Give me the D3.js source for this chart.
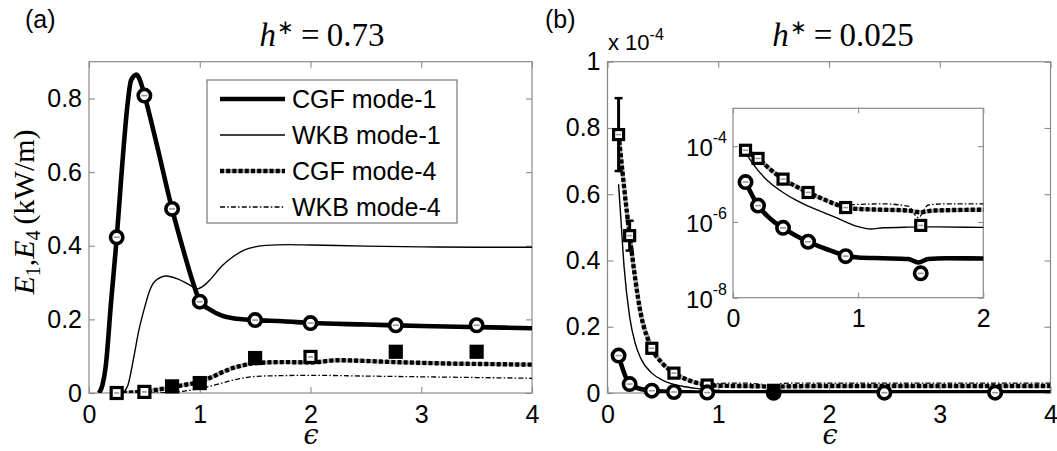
<!DOCTYPE html>
<html><head><meta charset="utf-8">
<script src="https://cdn.jsdelivr.net/npm/d3@7"></script>
<style>
body{margin:0;background:#fff}
svg{display:block}
.tick text{font-family:"Liberation Sans",Arial,sans-serif;font-size:25px;fill:#000}
</style></head><body>
<svg id="fig" width="1057" height="451"></svg>
<script>
// ---------- panel (a): h* = 0.73 ----------
const epsCgf1A = [0.09,0.12,0.15,0.2,0.25,0.3,0.35,0.38,0.43,0.46,0.5,0.6,0.75,0.85,0.95,1.0,1.1,1.2,1.3,1.5,1.75,2.0,2.5,3.0,3.5,4.0];
const cgf1A    = [0,0.02,0.07,0.25,0.42,0.62,0.79,0.85,0.865,0.85,0.81,0.69,0.50,0.39,0.29,0.25,0.225,0.21,0.203,0.198,0.195,0.19,0.186,0.182,0.179,0.176];
const epsWkb1A = [0.3,0.35,0.4,0.45,0.5,0.55,0.6,0.7,0.8,0.9,0.98,1.05,1.1,1.2,1.3,1.4,1.5,1.6,1.8,2.0,2.5,3.0,3.5,4.0];
const wkb1A    = [0,0.02,0.09,0.17,0.23,0.28,0.305,0.318,0.31,0.295,0.283,0.295,0.31,0.345,0.37,0.388,0.397,0.401,0.403,0.402,0.399,0.397,0.396,0.396];
const epsCgf4A = [0.25,0.5,0.75,0.9,1.0,1.1,1.2,1.3,1.4,1.5,1.75,2.0,2.25,2.5,2.75,3.0,3.25,3.5,3.75,4.0];
const cgf4A    = [0,0.004,0.016,0.024,0.03,0.042,0.056,0.068,0.076,0.081,0.084,0.083,0.089,0.087,0.084,0.082,0.080,0.079,0.078,0.077];
const epsWkb4A = [0.25,0.5,0.7,0.8,0.9,1.0,1.1,1.2,1.3,1.4,1.5,1.7,2.0,2.5,3.0,3.5,4.0];
const wkb4A    = [0,0,0.001,0.003,0.007,0.012,0.019,0.027,0.035,0.041,0.045,0.047,0.048,0.046,0.044,0.042,0.040];
const epsMarkA = [0.25,0.5,0.75,1.0,1.5,2.0,2.77,3.5];
const circA    = [0.423,0.808,0.500,0.248,0.198,0.190,0.184,0.184];
const sqA      = [0.0,0.003,0.018,0.027,0.095,0.098,0.112,0.112];
const xTicksA  = [0,1,2,3,4];
const yTicksA  = [0,0.2,0.4,0.6,0.8];

// ---------- panel (b): h* = 0.025 ----------
const epsCgf1B = [0.1,0.2,0.3,0.4,0.5,0.6,0.75,0.9,1.0,1.2,1.4,1.48,1.56,1.7,2.0,3.0,4.0];
const cgf1B    = [1.13e-5,2.7e-6,1.2e-6,7e-7,4.4e-7,3e-7,1.9e-7,1.3e-7,1.15e-7,1.1e-7,1.05e-7,8.5e-8,1.05e-7,1.1e-7,1.08e-7,1.05e-7,1.05e-7];
const epsWkb1B = [0.1,0.12,0.15,0.2,0.25,0.3,0.4,0.5,0.6,0.7,0.8,0.9,1.0,1.1,1.2,1.4,1.6,2.0,3.0,4.0];
const wkb1B    = [6.3e-5,5.3e-5,3.8e-5,2.3e-5,1.5e-5,1.05e-5,6e-6,3.8e-6,2.6e-6,1.9e-6,1.4e-6,1.0e-6,7.5e-7,6.5e-7,7.0e-7,7.3e-7,7.4e-7,7.2e-7,7.0e-7,7.0e-7];
const epsCgf4B = [0.1,0.2,0.3,0.4,0.5,0.6,0.7,0.8,0.9,1.0,1.2,1.4,1.5,1.6,2.0,3.0,4.0];
const cgf4B    = [7.8e-5,4.75e-5,2.4e-5,1.35e-5,8.8e-6,6e-6,4.3e-6,3.1e-6,2.4e-6,2.2e-6,2.1e-6,2.0e-6,1.8e-6,2.0e-6,2.1e-6,2.1e-6,2.1e-6];
const epsWkb4B = [0.1,0.15,0.2,0.3,0.4,0.5,0.6,0.7,0.8,0.9,1.0,1.2,1.4,1.48,1.56,1.7,2.0,3.0,4.0];
const wkb4B    = [8.0e-5,6.2e-5,5.0e-5,2.6e-5,1.45e-5,9e-6,6.2e-6,4.4e-6,3.4e-6,2.8e-6,2.9e-6,3.0e-6,2.6e-6,1.3e-6,2.8e-6,3.0e-6,3.0e-6,3.0e-6,3.0e-6];
const epsCircB = [0.1,0.2,0.4,0.6,0.9,1.5,2.5,3.5];
const circB    = [1.13e-5,2.7e-6,7e-7,3e-7,1.25e-7,4.4e-8,1e-7,1e-7];
const epsSqB   = [0.1,0.2,0.4,0.6,0.9,1.5];
const sqB      = [7.8e-5,4.75e-5,1.35e-5,6e-6,2.4e-6,8.1e-7];
const sqLoB    = [6.7e-5,4.3e-5,1.2e-5,5.4e-6,2.2e-6,7.5e-7];
const sqHiB    = [8.9e-5,5.2e-5,1.5e-5,6.6e-6,2.6e-6,8.7e-7];
const xTicksB  = [0,1,2,3,4];
const yTicksB  = [0,0.2,0.4,0.6,0.8,1];   // in units of 1e-4
const xTicksIn = [0,1,2];
const yTicksIn = [1e-8,1e-6,1e-4];

const legendLabels = ["CGF mode-1","WKB mode-1","CGF mode-4","WKB mode-4"];

// ---------- drawing ----------
const sans  = '"Liberation Sans",Arial,sans-serif';
const serif = '"Liberation Serif","Times New Roman",serif';
const frameColor = "#8a8a8a";
const fig = d3.select("#fig");

// line styles per series
const styles = {
  cgf1: {w:4.6, dash:null,            color:"#000"},
  wkb1: {w:1.4, dash:null,            color:"#000"},
  cgf4: {w:4.4, dash:"4,2.2",         color:"#000"},
  wkb4: {w:1.3, dash:"5,2.2,1.5,2.2", color:"#000"}
};

function drawFrame(g, x, y, xTicks, yTicks, yFmt, tl) {
  const [xa, xb] = x.range(), [ya, yb] = y.range();
  g.append("rect").attr("x", xa).attr("y", yb).attr("width", xb - xa).attr("height", ya - yb)
    .attr("fill", "#fff").attr("stroke", frameColor).attr("stroke-width", 1.2);
  g.append("g").attr("transform", `translate(0,${ya})`)
    .call(d3.axisBottom(x).tickValues(xTicks).tickSizeInner(-tl).tickSizeOuter(0).tickPadding(12).tickFormat(d3.format("d")));
  g.append("g").attr("transform", `translate(0,${yb})`)
    .call(d3.axisTop(x).tickValues(xTicks).tickSizeInner(-tl).tickSizeOuter(0).tickFormat(""));
  const la = d3.axisLeft(y).tickValues(yTicks).tickSizeInner(-tl).tickSizeOuter(0).tickPadding(7);
  if (yFmt) la.tickFormat(yFmt); else la.tickFormat("");
  g.append("g").attr("transform", `translate(${xa},0)`).call(la);
  g.append("g").attr("transform", `translate(${xb},0)`)
    .call(d3.axisRight(y).tickValues(yTicks).tickSizeInner(-tl).tickSizeOuter(0).tickFormat(""));
  g.selectAll(".domain").remove();
  g.selectAll(".tick line").attr("stroke", frameColor).attr("stroke-width", 1.1);
}

function clipFor(id, x, y) {
  const [xa, xb] = x.range(), [ya, yb] = y.range();
  fig.append("defs").append("clipPath").attr("id", id)
    .append("rect").attr("x", xa).attr("y", yb).attr("width", xb - xa).attr("height", ya - yb);
}

function drawSeries(g, x, y, xs, ys, st, clipId) {
  const line = d3.line().x(d => x(d[0])).y(d => y(d[1])).curve(d3.curveMonotoneX);
  const pts = xs.map((v, i) => [v, ys[i]]);
  if (st === styles.cgf4) {
    g.append("path").attr("d", line(pts)).attr("clip-path", `url(#${clipId})`)
      .attr("fill", "none").attr("stroke", "#aaa").attr("stroke-width", st.w - 0.6);
  }
  g.append("path").attr("d", line(pts)).attr("clip-path", `url(#${clipId})`)
    .attr("fill", "none").attr("stroke", st.color).attr("stroke-width", st.w)
    .attr("stroke-dasharray", st.dash).attr("stroke-linejoin", "round");
}

function circleMark(g, cx, cy, filled) {
  g.append("circle").attr("cx", cx).attr("cy", cy).attr("r", 6.2)
    .attr("fill", filled ? "#000" : "#fff").attr("stroke", "#000").attr("stroke-width", 3.6);
  if (!filled) g.append("line").attr("x1", cx - 3).attr("x2", cx + 3).attr("y1", cy).attr("y2", cy)
    .attr("stroke", "#999").attr("stroke-width", 1.6);
}
function squareMark(g, cx, cy, filled, s) {
  s = s || 10;
  g.append("rect").attr("x", cx - s / 2).attr("y", cy - s / 2).attr("width", s).attr("height", s)
    .attr("fill", filled ? "#000" : "#fff").attr("stroke", "#000").attr("stroke-width", 3.2);
  if (!filled) g.append("line").attr("x1", cx - 2.5).attr("x2", cx + 2.5).attr("y1", cy).attr("y2", cy)
    .attr("stroke", "#999").attr("stroke-width", 1.6);
}

// ===== panel (a) =====
const xA = d3.scaleLinear().domain([0, 4]).range([89, 532]);
const yA = d3.scaleLinear().domain([0, 0.9]).range([393, 61.7]);
const gA = fig.append("g");
clipFor("clipA", xA, yA);
drawFrame(gA, xA, yA, xTicksA, yTicksA, d3.format(".1~f"), 6);

drawSeries(gA, xA, yA, epsWkb4A, wkb4A, styles.wkb4, "clipA");
drawSeries(gA, xA, yA, epsCgf4A, cgf4A, styles.cgf4, "clipA");
drawSeries(gA, xA, yA, epsWkb1A, wkb1A, styles.wkb1, "clipA");
drawSeries(gA, xA, yA, epsCgf1A, cgf1A, styles.cgf1, "clipA");

const solidSqA = new Set([2, 3, 4, 6, 7]);
epsMarkA.forEach((e, i) => squareMark(gA, xA(e), yA(sqA[i]), solidSqA.has(i), 11));
epsMarkA.forEach((e, i) => circleMark(gA, xA(e), yA(circA[i]), false));

// legend
const lg = gA.append("g");
lg.append("rect").attr("x", 207).attr("y", 80).attr("width", 250).attr("height", 143)
  .attr("fill", "#fff").attr("stroke", "#777").attr("stroke-width", 1.2);
const legendStyles = [styles.cgf1, styles.wkb1, styles.cgf4, styles.wkb4];
legendLabels.forEach((lab, i) => {
  const yy = 99 + i * 36;
  const st = legendStyles[i];
  if (st === styles.cgf4) lg.append("line").attr("x1", 220).attr("x2", 285).attr("y1", yy).attr("y2", yy)
    .attr("stroke", "#aaa").attr("stroke-width", st.w - 0.6);
  lg.append("line").attr("x1", 220).attr("x2", 285).attr("y1", yy).attr("y2", yy)
    .attr("stroke", st.color).attr("stroke-width", st.w).attr("stroke-dasharray", st.dash);
  lg.append("text").attr("x", 292).attr("y", yy + 9).attr("font-family", sans).attr("font-size", 25).text(lab);
});

// titles, labels
function hTitle(cx, val) {
  const t = fig.append("text").attr("x", cx).attr("y", 46).attr("text-anchor", "middle")
    .attr("font-family", serif).attr("font-size", 33);
  t.append("tspan").attr("font-style", "italic").text("h");
  t.append("tspan").attr("font-size", 20).attr("dy", -12).attr("dx", 1).text("\u2217");
  t.append("tspan").attr("dy", 12).attr("dx", 7).text("=");
  t.append("tspan").attr("dx", 7).text(val);
}
hTitle(322, "0.73");
fig.append("text").attr("x", 25).attr("y", 28).attr("font-family", sans).attr("font-size", 25).text("(a)");

const yl = fig.append("text").attr("transform", "translate(34,212) rotate(-90)").attr("text-anchor", "middle")
  .attr("font-family", serif).attr("font-size", 30);
yl.append("tspan").attr("font-style", "italic").text("E");
yl.append("tspan").attr("font-size", 20).attr("dy", 6).text("1");
yl.append("tspan").attr("dy", -6).text(",");
yl.append("tspan").attr("font-style", "italic").text("E");
yl.append("tspan").attr("font-size", 20).attr("dy", 6).text("4");
yl.append("tspan").attr("dy", -6).text("\u2009(kW/m)");

function epsLabel(cx) {
  fig.append("text").attr("x", cx).attr("y", 444).attr("text-anchor", "middle")
    .attr("font-family", '"DejaVu Serif",serif').attr("font-style", "italic").attr("font-size", 27).text("\u03F5");
}
epsLabel(311);

// ===== panel (b) =====
const xB = d3.scaleLinear().domain([0, 4]).range([607.5, 1050.5]);
const yB = d3.scaleLinear().domain([0, 1e-4]).range([393, 61.7]);
const gB = fig.append("g");
clipFor("clipB", xB, yB);
drawFrame(gB, xB, yB, xTicksB, yTicksB.map(v => v * 1e-4), d => d3.format(".1~f")(d * 1e4), 6);

drawSeries(gB, xB, yB, epsWkb4B, wkb4B, styles.wkb4, "clipB");
drawSeries(gB, xB, yB, epsCgf4B, cgf4B, styles.cgf4, "clipB");
drawSeries(gB, xB, yB, epsWkb1B, wkb1B, styles.wkb1, "clipB");
drawSeries(gB, xB, yB, epsCgf1B, cgf1B, styles.cgf1, "clipB");

// error bars on the mode-4 computations
epsSqB.forEach((e, i) => {
  const cx = xB(e);
  gB.append("line").attr("x1", cx).attr("x2", cx).attr("y1", yB(sqLoB[i])).attr("y2", yB(sqHiB[i]))
    .attr("stroke", "#000").attr("stroke-width", 3);
  [sqLoB[i], sqHiB[i]].forEach(v => gB.append("line").attr("x1", cx - 4).attr("x2", cx + 4)
    .attr("y1", yB(v)).attr("y2", yB(v)).attr("stroke", "#000").attr("stroke-width", 2.5));
});
epsSqB.forEach((e, i) => squareMark(gB, xB(e), yB(sqB[i]), false, 10));
epsCircB.forEach((e, i) => circleMark(gB, xB(e), yB(circB[i]), i === 5));

hTitle(843, "0.025");
fig.append("text").attr("x", 545).attr("y", 28).attr("font-family", sans).attr("font-size", 25).text("(b)");
const mult = fig.append("text").attr("x", 608).attr("y", 50).attr("font-family", sans).attr("font-size", 22);
mult.append("tspan").text("x 10");
mult.append("tspan").attr("font-size", 16).attr("dy", -10).text("-4");
epsLabel(830);

// ===== inset (log scale) =====
const xI = d3.scaleLinear().domain([0, 2]).range([733, 983.3]);
const yI = d3.scaleLog().domain([1e-8, 1e-3]).range([297.7, 108.3]);
const gI = fig.append("g");
clipFor("clipI", xI, yI);
drawFrame(gI, xI, yI, xTicksIn, yTicksIn, null, 5);
yTicksIn.forEach(v => {
  const t = gI.append("text").attr("x", 727).attr("y", yI(v) + 10).attr("text-anchor", "end")
    .attr("font-family", sans).attr("font-size", 24);
  t.append("tspan").text("10");
  t.append("tspan").attr("font-size", 16).attr("dy", -13).text(String(Math.round(Math.log10(v))));
});

drawSeries(gI, xI, yI, epsWkb4B, wkb4B, styles.wkb4, "clipI");
drawSeries(gI, xI, yI, epsCgf4B, cgf4B, styles.cgf4, "clipI");
drawSeries(gI, xI, yI, epsWkb1B, wkb1B, styles.wkb1, "clipI");
drawSeries(gI, xI, yI, epsCgf1B, cgf1B, styles.cgf1, "clipI");
epsSqB.forEach((e, i) => squareMark(gI, xI(e), yI(sqB[i]), false, 10));
epsCircB.forEach((e, i) => { if (e <= 2) circleMark(gI, xI(e), yI(circB[i]), false); });
</script>
</body></html>
